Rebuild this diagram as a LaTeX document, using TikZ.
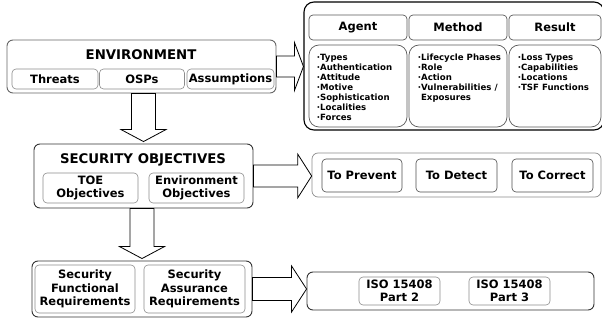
\documentclass[tikz,border=0pt]{standalone}
\usepackage{fontspec}
\setmainfont{DejaVu Sans}
\usetikzlibrary{calc}
\newcommand\rightblock[5]{\draw[blockarrow] let \p1=(#1.east), \p2=(#2.west) in
 (\x1,{\y1+#3}) -- ({\x2-#5},{\y1+#3}) -- ({\x2-#5},{\y1+#4}) -- (\x2,\y1) -- ({\x2-#5},{\y1-#4}) -- ({\x2-#5},{\y1-#3}) -- (\x1,{\y1-#3}) -- cycle;}
\newcommand\downblock[6]{\draw[blockarrow] let \p1=(#1.south), \p2=(#2.north) in
 ({\x2-#3},\y1) -- ({\x2-#3},{\y2+#6+#5}) -- ({\x2-#4},{\y2+#6+#5}) -- (\x2,{\y2+#6}) -- ({\x2+#4},{\y2+#6+#5}) -- ({\x2+#3},{\y2+#6+#5}) -- ({\x2+#3},\y1) -- cycle;}
\begin{document}
\begin{tikzpicture}[x=1pt,y=-1pt,
  outerbox/.style={draw=black!80, line width=0.9pt, rounded corners=6pt, inner sep=0pt},
  innerbox/.style={draw=black!45, line width=0.6pt, rounded corners=4pt, inner sep=0pt, align=center,
     font=\fontsize{11.5}{13.5}\selectfont\bfseries},
  darkinner/.style={innerbox, draw=black!70},
  titletext/.style={inner sep=0pt, font=\fontsize{13.3}{15}\selectfont\bfseries},
  bigbox/.style={draw=black, line width=1.1pt, rounded corners=10pt, inner sep=0pt},
  headbox/.style={draw=black!65, line width=0.7pt, rounded corners=4pt, inner sep=0pt,
     font=\fontsize{11.5}{13.5}\selectfont\bfseries},
  listbox/.style={draw=black!65, line width=0.7pt, rounded corners=10pt, inner sep=0pt},
  listtext/.style={inner sep=0pt, anchor=north west, align=left,
     font=\fontsize{8.6}{10}\selectfont\bfseries},
  blockarrow/.style={draw=black, fill=white, line width=0.8pt, line join=miter}
]
\useasboundingbox (0,0) rectangle (602,320);

% Environment
\node[outerbox, draw=black!60, minimum width=269pt, minimum height=53pt] (env) at (141.5,66.5) {};
\node[titletext] (envt) at (141,55) {ENVIRONMENT};
\node[innerbox, minimum width=86pt, minimum height=20pt] (threats) at (55,79) {Threats};
\node[innerbox, minimum width=85pt, minimum height=20pt] (osps) at (142,79) {OSPs};
\node[innerbox, minimum width=87pt, minimum height=20pt] (assum) at (230.5,79) {Assumptions};

% Big top-right box
\node[bigbox, minimum width=300pt, minimum height=128pt] (big) at (454,66) {};
\node[headbox, minimum width=98pt, minimum height=25pt] (agent) at (358,27.5) {Agent};
\node[headbox, minimum width=98pt, minimum height=25pt] (method) at (458,27.5) {Method};
\node[headbox, minimum width=92pt, minimum height=25pt] (result) at (555,27.5) {Result};
\node[listbox, minimum width=98pt, minimum height=82pt] (agentl) at (358,86) {};
\node[listbox, minimum width=98pt, minimum height=82pt] (methodl) at (458,86) {};
\node[listbox, minimum width=92pt, minimum height=82pt] (resultl) at (555,86) {};
\node[listtext] (agentt) at ($(agentl.north west)+(8,9.5)$)
  {·Types\\·Authentication\\·Attitude\\·Motive\\·Sophistication\\·Localities\\·Forces};
\node[listtext] (methodt) at ($(methodl.north west)+(9,9.5)$)
  {·Lifecycle Phases\\·Role\\·Action\\·Vulnerabilities /\\\phantom{·}Exposures};
\node[listtext] (resultt) at ($(resultl.north west)+(9,9.5)$)
  {·Loss Types\\·Capabilities\\·Locations\\·TSF Functions};

% Security objectives
\node[outerbox, minimum width=219pt, minimum height=64pt] (so) at (143.5,176) {};
\node[titletext] (sot) at (143,160) {SECURITY OBJECTIVES};
\node[innerbox, minimum width=95pt, minimum height=30pt] (toe) at (90.5,188) {TOE\\Objectives};
\node[innerbox, minimum width=95pt, minimum height=30pt] (envo) at (196.5,188) {Environment\\Objectives};

% To prevent / detect / correct
\node[outerbox, draw=black!45, line width=0.7pt, minimum width=289pt, minimum height=44pt] (prev) at (456.5,175) {};
\node[darkinner, minimum width=80pt, minimum height=33pt] (toprev) at (362,175.5) {To Prevent};
\node[darkinner, minimum width=81pt, minimum height=33pt] (todet) at (456.5,175.5) {To Detect};
\node[darkinner, minimum width=81pt, minimum height=33pt] (tocor) at (552.5,175.5) {To Correct};

% Requirements
\node[outerbox, minimum width=220pt, minimum height=56pt] (req) at (142,289) {};
\node[innerbox, minimum width=100pt, minimum height=48pt] (sfr) at (85,289) {Security\\Functional\\Requirements};
\node[innerbox, minimum width=101pt, minimum height=48pt] (sar) at (194.5,289) {Security\\Assurance\\Requirements};

% ISO
\node[outerbox, minimum width=287pt, minimum height=38pt] (iso) at (450.5,291) {};
\node[innerbox, minimum width=81pt, minimum height=28pt] (iso2) at (399.5,291) {ISO 15408\\Part 2};
\node[innerbox, minimum width=81pt, minimum height=28pt] (iso3) at (509.5,291) {ISO 15408\\Part 3};

% Block arrows
\rightblock{env}{big}{10.5pt}{24pt}{9pt}
\rightblock{so}{prev}{11pt}{22pt}{14pt}
\rightblock{req}{iso}{11.5pt}{23pt}{15pt}
\downblock{env}{so}{12pt}{22.5pt}{12pt}{2pt}
\downblock{so}{req}{12pt}{22.5pt}{12pt}{2pt}
\end{tikzpicture}
\end{document}
